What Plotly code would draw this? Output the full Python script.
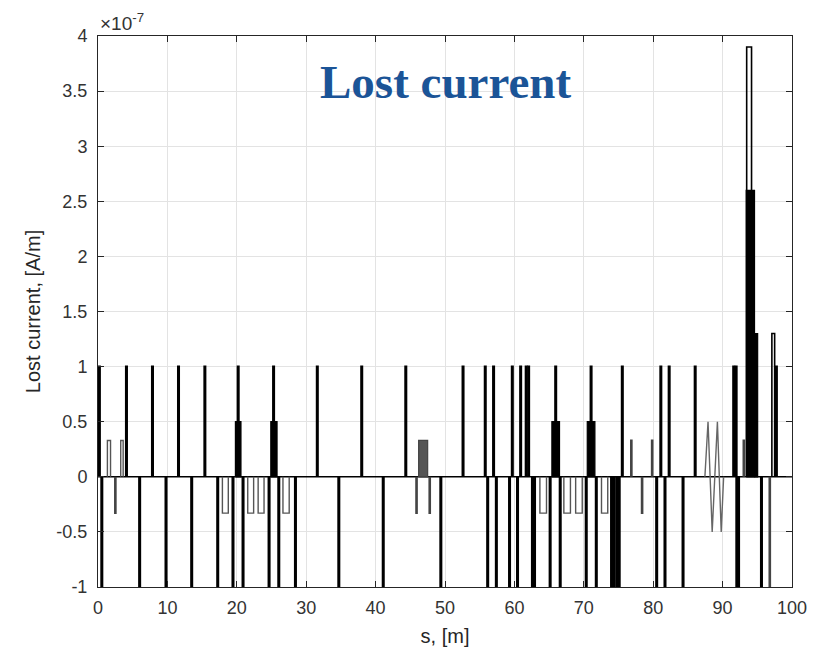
import plotly.graph_objects as go

# ---------------- data (values in units of 1e-7 A/m) ----------------
S_RANGE = [0, 100]
Y_EXP = -7

# narrow black spikes
black_spike_s = [0.2, 4.1, 7.85, 11.6, 15.4, 20.2, 25.3, 31.6, 38.0, 44.35,
                 52.6, 55.8, 57.0, 59.7, 60.9, 61.7, 62.05, 65.95, 71.05, 75.55,
                 81.1, 82.3, 86.05, 91.6, 91.95, 97.75,
                 0.55, 6.0, 9.8, 13.5, 17.25, 19.45, 20.9, 24.65, 26.05, 28.45,
                 34.7, 41.1, 49.4, 56.15, 57.4, 59.3, 60.45, 62.6, 62.9, 65.15,
                 66.6, 70.35, 71.8, 74.0, 74.35, 74.75, 75.1, 80.5, 81.7, 84.3,
                 92.05, 92.3, 95.6]
black_spike_v = [1.0] * 26 + [-1.0] * 33

# narrow grey spikes
grey_spike_s = [2.5, 45.9, 47.8, 78.4, 76.85, 79.85, 93.06, 96.8]
grey_spike_v = [-0.33, -0.33, -0.33, -0.33, 0.33, 0.33, 0.33, -1.0]

# open (outlined) grey pulses
grey_pulse_s = [1.58, 3.45, 18.35, 22.0, 23.5, 27.1, 64.15, 67.6, 69.3, 73.0]
grey_pulse_w = [0.45, 0.35, 0.85, 0.85, 0.85, 0.9, 0.95, 0.95, 0.95, 0.9]
grey_pulse_v = [0.33, 0.33, -0.33, -0.33, -0.33, -0.33, -0.33, -0.33, -0.33, -0.33]

# open (outlined) black pulses
black_pulse_s = [93.82, 97.3]
black_pulse_w = [0.7, 0.4]
black_pulse_v = [3.9, 1.3]

# filled black blocks
block_start = [19.8, 24.9, 65.4, 70.5, 93.4, 94.6]
block_end = [20.6, 25.8, 66.5, 71.6, 94.6, 95.05]
block_v = [0.5, 0.5, 0.5, 0.5, 2.6, 1.3]

# filled grey block
grey_block_start = [46.2]
grey_block_end = [47.5]
grey_block_v = [0.33]

# zig-zag segment
zig_s = [87.45, 87.9, 88.5, 89.25, 89.8, 90.15]
zig_v = [0, 0.5, -0.5, 0.5, -0.5, 0]

X_TICKS = [0, 10, 20, 30, 40, 50, 60, 70, 80, 90, 100]
Y_TICKS = [-1, -0.5, 0, 0.5, 1, 1.5, 2, 2.5, 3, 3.5, 4]
Y_TICK_TEXT = ["-1", "-0.5", "0", "0.5", "1", "1.5", "2", "2.5", "3", "3.5", "4"]

NARROW = 0.12


def pulse_path(centers, widths, values):
    xs, ys = [], []
    for c, w, v in zip(centers, widths, values):
        a, b = c - w / 2, c + w / 2
        xs += [a, a, b, b, None]
        ys += [0, v, v, 0, None]
    return xs, ys


def block_path(starts, ends, values):
    xs, ys = [], []
    for a, b, v in zip(starts, ends, values):
        xs += [a, a, b, b, a, None]
        ys += [0, v, v, 0, 0, None]
    return xs, ys


fig = go.Figure()

# baseline
fig.add_trace(go.Scatter(x=S_RANGE, y=[0, 0], mode="lines",
                         line=dict(color="black", width=1.5), hoverinfo="skip"))

bx, by = block_path(block_start, block_end, block_v)
fig.add_trace(go.Scatter(x=bx, y=by, mode="lines", fill="toself",
                         fillcolor="black", line=dict(color="black", width=1.2)))

gbx, gby = block_path(grey_block_start, grey_block_end, grey_block_v)
fig.add_trace(go.Scatter(x=gbx, y=gby, mode="lines", fill="toself",
                         fillcolor="#555555", line=dict(color="#444444", width=1.2)))

px_, py_ = pulse_path(grey_pulse_s, grey_pulse_w, grey_pulse_v)
fig.add_trace(go.Scatter(x=px_, y=py_, mode="lines",
                         line=dict(color="#555555", width=1.4)))

gx, gy = pulse_path(grey_spike_s, [NARROW] * len(grey_spike_s), grey_spike_v)
fig.add_trace(go.Scatter(x=gx, y=gy, mode="lines",
                         line=dict(color="#444444", width=1.8)))

fig.add_trace(go.Scatter(x=zig_s, y=zig_v, mode="lines",
                         line=dict(color="#666666", width=1.4)))

kx, ky = pulse_path(black_spike_s, [NARROW] * len(black_spike_s), black_spike_v)
fig.add_trace(go.Scatter(x=kx, y=ky, mode="lines",
                         line=dict(color="black", width=2.2)))

ox, oy = pulse_path(black_pulse_s, black_pulse_w, black_pulse_v)
fig.add_trace(go.Scatter(x=ox, y=oy, mode="lines",
                         line=dict(color="black", width=1.6)))

FONT = "Liberation Sans, Arial, sans-serif"
axis_common = dict(showline=True, linecolor="#262626", linewidth=1, mirror="ticks",
                   ticks="inside", ticklen=6, tickcolor="#262626", showgrid=True,
                   gridcolor="#e3e3e3", gridwidth=1, zeroline=False,
                   tickfont=dict(family=FONT, size=18, color="#333333"))

fig.update_xaxes(range=S_RANGE, tickvals=X_TICKS, ticklabelstandoff=4,
                 title=dict(text="s, [m]", standoff=12,
                            font=dict(family=FONT, size=20, color="#262626")),
                 **axis_common)
fig.update_yaxes(range=[Y_TICKS[0], Y_TICKS[-1]], tickvals=Y_TICKS,
                 ticktext=Y_TICK_TEXT, ticklabelstandoff=6,
                 title=dict(text="Lost current, [A/m]", standoff=10,
                            font=dict(family=FONT, size=20, color="#262626")),
                 **axis_common)

fig.add_annotation(xref="paper", yref="paper", x=0, y=1, xanchor="left",
                   yanchor="bottom", yshift=0, showarrow=False,
                   text="\u00d710<sup>%d</sup>" % Y_EXP,
                   font=dict(family=FONT, size=19, color="#333333"))

fig.add_annotation(xref="paper", yref="paper", x=0.5, y=0.9165, xanchor="center",
                   yanchor="middle", showarrow=False,
                   text="<b>Lost current</b>",
                   font=dict(family="Liberation Serif, Times New Roman, serif",
                             size=47, color="#1b5497"))

fig.update_layout(width=819, height=658, showlegend=False,
                  paper_bgcolor="white", plot_bgcolor="white",
                  margin=dict(l=98, r=24, t=36, b=71))

fig.write_html("out.html", config={"displayModeBar": False},
               post_script="document.body.style.margin='0';")
